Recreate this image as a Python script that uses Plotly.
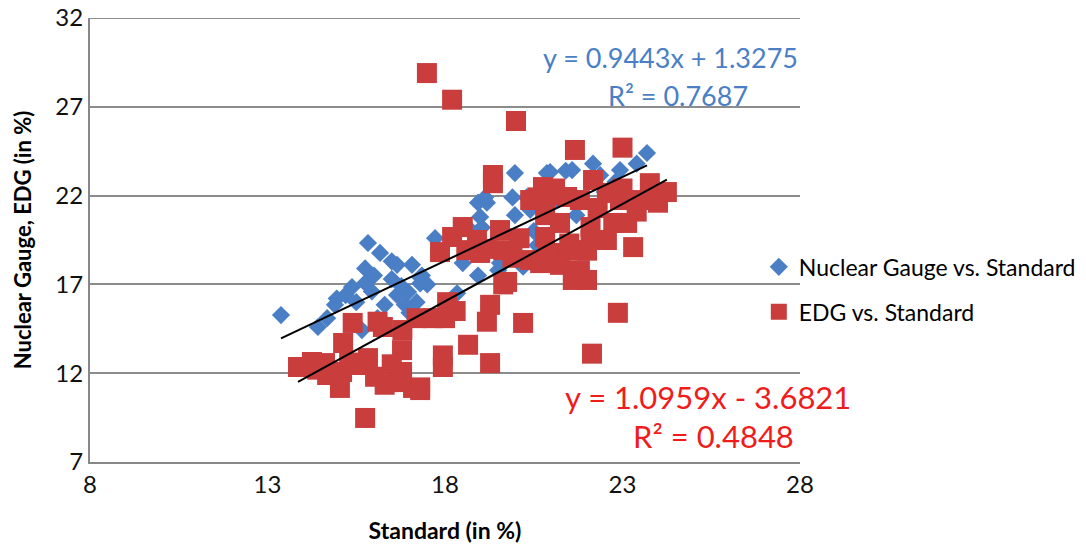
import plotly.graph_objects as go

# Nuclear Gauge vs. Standard (blue diamonds)
ng_x = [15.83, 16.17, 13.38, 15.75, 15.38, 15.2, 14.9, 14.42, 14.68, 15.94, 15.75, 16.65, 17.07, 16.65,
        16.96, 16.3, 16.87, 16.1, 15.66, 17.2, 17.35, 15.5, 14.95, 16.5, 16.0, 17.5, 17.0, 16.5, 16.77,
        19.97, 19.13, 18.93, 17.72, 18.99, 19.04, 20.3, 19.97, 18.93, 18.5, 17.3, 18.34, 20.2, 19.55,
        20.87, 19.5, 17.3, 19.18, 18.7,
        23.69, 22.17, 22.93, 21.58, 20.96, 23.4, 22.8, 21.0, 21.7, 20.68, 21.4, 22.37, 20.6, 20.4,
        19.9, 21.2, 22.5, 20.5]
ng_y = [19.33, 18.77, 15.27, 17.9, 16.85, 16.4, 15.85, 14.6, 15.1, 16.6, 17.08, 18.1, 18.1, 16.4,
        16.57, 15.85, 15.85, 15.1, 14.43, 16.0, 17.5, 16.0, 16.2, 17.3, 17.5, 17.0, 15.4, 18.3, 16.9,
        23.27, 21.9, 21.6, 19.6, 20.8, 20.2, 21.9, 20.9, 17.5, 18.2, 17.4, 16.5, 18.0, 18.2,
        23.27, 17.8, 17.05, 21.6, 20.1,
        24.4, 23.8, 23.44, 23.44, 23.33, 23.8, 22.77, 21.5, 20.9, 18.77, 23.4, 23.15, 19.2, 21.2,
        21.9, 22.2, 22.2, 20.0]

# EDG vs. Standard (red squares)
edg_x = [17.49, 18.2, 20.0,
         15.4, 16.25, 16.8, 15.13, 13.86, 14.25, 14.62, 15.1, 15.04, 15.55, 15.83, 16.03, 16.3, 16.79,
         16.79, 17.1, 15.75, 14.68, 17.2, 14.4, 15.3, 16.5, 16.6, 17.3, 16.1,
         19.35, 19.35, 17.86, 18.5, 18.2, 18.6, 18.99, 19.55, 19.64, 20.1, 20.4, 20.6, 20.76, 19.75,
         19.64, 19.27, 19.18, 20.2, 17.66, 18.0, 18.65, 17.94, 17.94, 19.27, 17.3, 18.06, 18.3, 18.9,
         19.2, 19.9,
         21.66, 23.0, 22.17, 20.96, 21.44, 21.8, 22.56, 22.93, 23.5, 23.77, 24.25, 23.4, 20.82, 20.82,
         21.24, 22.1, 22.74, 23.13, 23.3, 22.56, 22.1, 21.7, 22.0, 21.16, 20.68, 21.24, 21.8, 21.6,
         22.0, 22.87, 22.14, 20.4, 21.1, 22.3, 23.0, 24.0, 21.5, 20.9]
edg_y = [28.9, 27.4, 26.2,
         14.83, 14.6, 14.43, 13.7, 12.35, 12.63, 12.57, 12.07, 11.17, 12.46, 12.85, 11.8, 11.35, 13.3,
         12.07, 11.17, 9.48, 11.9, 15.1, 12.2, 12.6, 12.5, 11.5, 11.2, 14.9,
         23.16, 22.7, 18.82, 20.23, 19.67, 18.93, 18.77, 20.06, 18.93, 19.6, 18.37, 21.9, 22.48, 17.14,
         17.0, 15.85, 14.9, 14.83, 15.1, 15.1, 13.6, 13.0, 12.35, 12.57, 11.05, 16.0, 15.5, 19.5,
         19.0, 18.5,
         24.57, 24.7, 22.88, 22.03, 21.92, 21.75, 22.15, 21.75, 21.75, 22.7, 22.2, 21.1, 20.9, 19.67,
         20.46, 20.23, 20.46, 20.46, 19.1, 19.5, 19.5, 18.93, 18.9, 18.77, 18.2, 18.1, 17.8, 17.25,
         17.25, 15.4, 13.1, 21.75, 22.4, 21.3, 22.4, 21.6, 19.3, 18.6]

# Linear trendlines (from the equations shown on the chart)
ng_slope, ng_intercept = 0.9443, 1.3275
edg_slope, edg_intercept = 1.0959, -3.6821
ng_trend_x = [13.38, 23.69]
edg_trend_x = [13.86, 24.25]

x_ticks = [8, 13, 18, 23, 28]
y_ticks = [7, 12, 17, 22, 27, 32]

BLUE = "#4a7fc6"
RED = "#c93d3d"
EQ_RED = "#f01c1c"
FONT = "Lato"

fig = go.Figure()
fig.add_trace(go.Scatter(
    x=ng_x, y=ng_y, mode="markers", name="Nuclear Gauge vs. Standard", legendgroup="a",
    marker=dict(symbol="diamond", size=14, color=BLUE, line=dict(width=0)),
))
fig.add_trace(go.Scatter(
    x=edg_x, y=edg_y, mode="markers", name="EDG vs. Standard", legendgroup="b",
    marker=dict(symbol="square", size=20, color=RED, line=dict(width=0)),
))
fig.add_trace(go.Scatter(
    x=ng_trend_x, y=[ng_slope * v + ng_intercept for v in ng_trend_x], mode="lines",
    line=dict(color="black", width=2), showlegend=False, hoverinfo="skip",
))
fig.add_trace(go.Scatter(
    x=edg_trend_x, y=[edg_slope * v + edg_intercept for v in edg_trend_x], mode="lines",
    line=dict(color="black", width=2), showlegend=False, hoverinfo="skip",
))

annots = [
    dict(x=24.34, y=29.75, text="y = 0.9443x + 1.3275", color=BLUE, size=27),
    dict(x=24.56, y=27.66, text="R² = 0.7687", color=BLUE, size=27),
    dict(x=25.4, y=10.66, text="y = 1.0959x - 3.6821", color=EQ_RED, size=31),
    dict(x=25.55, y=8.46, text="R² = 0.4848", color=EQ_RED, size=31),
]
for a in annots:
    fig.add_annotation(x=a["x"], y=a["y"], xref="x", yref="y", text=a["text"], showarrow=False,
                       xanchor="center", yanchor="middle",
                       font=dict(family=FONT, size=a["size"], color=a["color"]))

# top border line at y = 32
fig.add_shape(type="line", xref="paper", yref="y", x0=0, x1=1, y0=32, y1=32,
              line=dict(color="#8c8c8c", width=2), layer="below")

fig.update_layout(
    width=1086, height=548,
    margin=dict(l=90, r=286, t=18, b=86, autoexpand=False),
    paper_bgcolor="white", plot_bgcolor="white",
    font=dict(family=FONT, color="black"),
    showlegend=True,
    legend=dict(x=0.942, y=0.488, xanchor="left", yanchor="top", bgcolor="rgba(0,0,0,0)",
                font=dict(family=FONT, size=23, color="black"), itemwidth=30,
                traceorder="grouped", tracegroupgap=12),
    xaxis=dict(range=[8, 28], tickvals=x_ticks, showgrid=False, zeroline=False, automargin=False,
               showline=True, linecolor="#888888", linewidth=2, ticks="",
               tickfont=dict(family=FONT, size=24, color="#111111"),
               title=dict(text="<b>Standard (in %)</b>", font=dict(family=FONT, size=23), standoff=26)),
    yaxis=dict(range=[7, 32], tickvals=y_ticks, showgrid=True, gridcolor="#8c8c8c", gridwidth=2,
               zeroline=False, showline=True, linecolor="#888888", linewidth=2, ticks="",
               automargin=False,
               tickfont=dict(family=FONT, size=24, color="#111111"),
               title=dict(text="<b>Nuclear Gauge, EDG (in %)</b>", font=dict(family=FONT, size=22), standoff=18)),
)

fig.write_html("out.html")
